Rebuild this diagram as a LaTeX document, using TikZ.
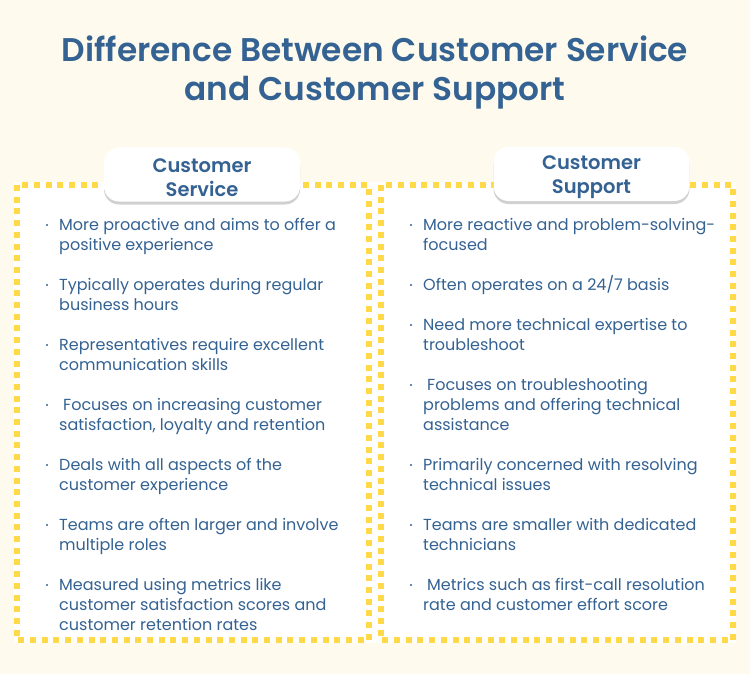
\documentclass[tikz,border=0pt]{standalone}
\usepackage{fontspec}
\setmainfont{Poppins}[BoldFont=Poppins SemiBold]
\usetikzlibrary{shadows}
\definecolor{txtblue}{RGB}{52,98,146}
\definecolor{cream}{RGB}{254,251,238}
\definecolor{dotyel}{RGB}{255,217,72}
\tikzstyle{tab}=[rounded corners=15pt,fill=white,minimum width=196pt,minimum height=54pt,drop shadow={shadow xshift=0pt,shadow yshift=-3pt,opacity=.3,fill=black!60}]
\tikzstyle{tabtxt}=[font=\fontsize{19.5}{24}\selectfont\bfseries,text=txtblue,align=center]
\tikzstyle{box}=[draw=dotyel,line width=5.5pt,dash pattern=on 6pt off 5.7pt]
\tikzstyle{item}=[anchor=base west,align=left,inner sep=0pt,text=txtblue,font=\fontsize{16}{20}\selectfont]
\tikzstyle{bul}=[circle,fill=txtblue,inner sep=0pt,minimum size=2.4pt]

\begin{document}
\begin{tikzpicture}[x=1pt,y=1pt]
\useasboundingbox (0,0) rectangle (750,-674);
\fill[cream] (0,0) rectangle (750,-674);
\node[text=txtblue,align=center,font=\fontsize{32.8}{39}\selectfont\bfseries] (title) at (375,-72.5) {Difference Between Customer Service\\and Customer Support};
% two dotted boxes
\fill[white] (14,-182) rectangle (736,-643);
\draw[box] (17,-185) rectangle (369,-640);
\draw[box] (381,-185) rectangle (733,-640);
\node[tab] (service) at (202,-174.5) {};
\node[tab] (support) at (591.5,-174) {};
\node[tabtxt] (servicetxt) at ([yshift=-3.5pt]service) {Customer\\Service};
\node[tabtxt] (supporttxt) at ([yshift=-3.5pt]support) {Customer\\Support};
% left column (y of first line, extra lines, text)
\foreach \y/\k/\t [count=\n] in {230/1/{More proactive and aims to offer a\\positive experience},
 290/1/{Typically operates during regular\\business hours},
 350/1/{Representatives require excellent\\communication skills},
 410/1/{\hspace{4pt}Focuses on increasing customer\\satisfaction, loyalty and retention},
 470/1/{Deals with all aspects of the\\customer experience},
 530/1/{Teams are often larger and involve\\multiple roles},
 590/2/{Measured using metrics like\\customer satisfaction scores and\\customer retention rates}}
{\node[bul] (lb\n) at (47,-\y+5) {};
 \node[item] (li\n) at (59,-\y-20*\k) {\t};}
% right column
\foreach \y/\k/\t [count=\n] in {230/1/{More reactive and problem-solving-\\focused},
 290/0/{Often operates on a 24/7 basis},
 330/1/{Need more technical expertise to\\troubleshoot},
 390/2/{\hspace{4pt}Focuses on troubleshooting\\problems and offering technical\\assistance},
 470/1/{Primarily concerned with resolving\\technical issues},
 530/1/{Teams are smaller with dedicated\\technicians},
 590/1/{\hspace{4pt}Metrics such as first-call resolution\\rate and customer effort score}}
{\node[bul] (rb\n) at (411,-\y+5) {};
 \node[item] (ri\n) at (423,-\y-20*\k) {\t};}
\end{tikzpicture}
\end{document}
